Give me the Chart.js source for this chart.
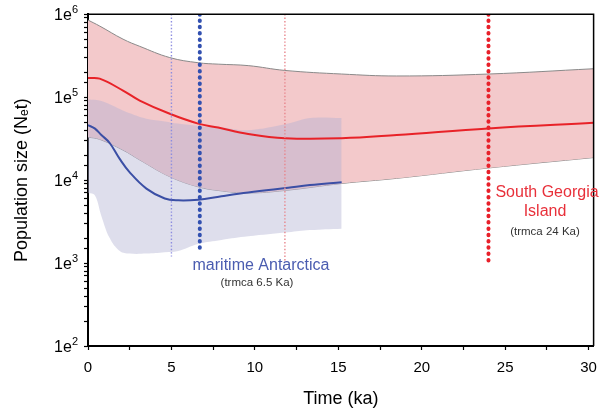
<!DOCTYPE html>
<html>
<head>
<meta charset="utf-8">
<script src="https://cdn.jsdelivr.net/npm/chart.js@4"></script>
<style>
  html, body { margin: 0; padding: 0; background: #fff; }
</style>
</head>
<body>
<canvas id="neChart" width="606" height="413"></canvas>
<script>
// South Georgia Island (red)
const sgTime = [0, 0.7, 2.1, 3.1, 4.9, 6.6, 7.8, 9.6, 11.8, 15.2, 18.5, 24, 30.3];
const sgMedian = [1.7e5, 1.67e5, 1.2e5, 9.1e4, 6.3e4, 4.8e4, 4.3e4, 3.6e4, 3.2e4, 3.2e4, 3.5e4, 4.2e4, 4.9e4];
const sgUpper = [8.5e5, 7.2e5, 5.0e5, 4.1e5, 3.0e5, 2.6e5, 2.5e5, 2.4e5, 2.1e5, 1.9e5, 1.8e5, 1.9e5, 2.2e5];
const sgLower = [3.3e4, 3.1e4, 2.3e4, 1.75e4, 1.1e4, 8.3e3, 7.5e3, 7.0e3, 7.5e3, 9.1e3, 1.05e4, 1.4e4, 1.87e4];

// maritime Antarctica (blue)
const maTime = [0, 0.4, 0.8, 1.3, 1.9, 2.5, 3.5, 4.6, 5.4, 6.6, 8, 9.6, 12, 13.3, 15.2];
const maMedian = [4.6e4, 4.2e4, 3.5e4, 2.8e4, 1.8e4, 1.24e4, 7.9e3, 6.0e3, 5.7e3, 5.8e3, 6.4e3, 7.1e3, 8.1e3, 8.7e3, 9.4e3];
const maUpper = [9.4e4, 9.3e4, 9.0e4, 8.2e4, 7.2e4, 6.4e4, 5.5e4, 5.1e4, 4.8e4, 4.5e4, 4.3e4, 4.0e4, 4.8e4, 5.6e4, 5.6e4];
const maLower = [7e3, 6.6e3, 3.7e3, 2.0e3, 1.4e3, 1.3e3, 1.3e3, 1.35e3, 1.4e3, 1.7e3, 1.9e3, 2.1e3, 2.35e3, 2.5e3, 2.6e3];

// vertical markers: time and lowest value
const markerTimes = [5, 6.7, 11.8, 24];
const markerBottoms = [1.2e3, 1.3e3, 1.07e3, 1.0e3];

// y tick labels: "1e" with a superscript exponent
const yTickValues = [1e2, 1e3, 1e4, 1e5, 1e6];
const yTickExponents = ['2', '3', '4', '5', '6'];

const FONT = "'Liberation Sans', Arial, sans-serif";

const pts = (xs, ys) => xs.map((x, i) => ({x: x, y: ys[i]}));
const vline = (i) => [{x: markerTimes[i], y: 1e6}, {x: markerTimes[i], y: markerBottoms[i]}];

const curve = {
  pointRadius: 0,
  tension: 0.4
};

const annotations = {
  id: 'annotations',
  afterDraw(chart) {
    const {ctx, chartArea} = chart;
    const yScale = chart.scales.y;
    ctx.save();
    // frame: top and right sides
    ctx.strokeStyle = '#000';
    ctx.lineWidth = 1.5;
    ctx.beginPath();
    ctx.moveTo(chartArea.left, chartArea.top);
    ctx.lineTo(chartArea.right, chartArea.top);
    ctx.lineTo(chartArea.right, chartArea.bottom);
    ctx.stroke();

    // y tick labels
    ctx.fillStyle = '#000';
    ctx.textBaseline = 'alphabetic';
    ctx.textAlign = 'left';
    const right = chartArea.left - 10;
    yTickValues.forEach((v, i) => {
      const y = yScale.getPixelForValue(v);
      ctx.font = '11px ' + FONT;
      const sw = ctx.measureText(yTickExponents[i]).width;
      ctx.font = '16px ' + FONT;
      const bw = ctx.measureText('1e').width;
      ctx.fillText('1e', right - sw - bw, y + 6);
      ctx.font = '11px ' + FONT;
      ctx.fillText(yTickExponents[i], right - sw, y - 1);
    });

    ctx.textAlign = 'center';
    ctx.fillStyle = '#4a5cb0';
    ctx.font = '16px ' + FONT;
    ctx.fillText('maritime Antarctica', 261, 270);
    ctx.fillStyle = '#333';
    ctx.font = '11.5px ' + FONT;
    ctx.fillText('(trmca 6.5 Ka)', 257, 286);

    ctx.fillStyle = '#e8303a';
    ctx.font = '16px ' + FONT;
    ctx.fillText('South Georgia', 547, 197);
    ctx.fillText('Island', 545, 216);
    ctx.fillStyle = '#333';
    ctx.font = '11.5px ' + FONT;
    ctx.fillText('(trmca 24 Ka)', 545, 235);
    ctx.restore();
  }
};

new Chart(document.getElementById('neChart'), {
  type: 'line',
  data: {
    datasets: [
      // vertical markers
      {data: vline(0), borderColor: '#8c8ce0', borderWidth: 1.4, borderDash: [1.4, 2], pointRadius: 0, order: 0},
      {data: vline(1), borderColor: '#3250b0', borderWidth: 4, borderDash: [0.5, 5.8], borderCapStyle: 'round', pointRadius: 0, order: 0},
      {data: vline(2), borderColor: '#e8868c', borderWidth: 1.4, borderDash: [1.4, 2], pointRadius: 0, order: 0},
      {data: vline(3), borderColor: '#e8202a', borderWidth: 4, borderDash: [0.5, 5.8], borderCapStyle: 'round', pointRadius: 0, order: 0},
      // medians
      {label: 'maritime Antarctica', data: pts(maTime, maMedian), borderColor: '#3b4fa5', borderWidth: 2, ...curve, order: 1},
      {label: 'South Georgia Island', data: pts(sgTime, sgMedian), borderColor: '#e82228', borderWidth: 2, ...curve, order: 2},
      // blue band
      {data: pts(maTime, maUpper), borderWidth: 0, borderColor: 'rgba(0,0,0,0)', backgroundColor: 'rgba(176,176,210,0.42)', fill: '+1', ...curve, order: 3},
      {data: pts(maTime, maLower), borderWidth: 0, borderColor: 'rgba(0,0,0,0)', ...curve, order: 4},
      // red band
      {data: pts(sgTime, sgUpper), borderWidth: 1, borderColor: '#8a8a8a', backgroundColor: '#f3c9cb', fill: '+1', ...curve, order: 5},
      {data: pts(sgTime, sgLower), borderWidth: 1, borderColor: '#8a8a8a', ...curve, order: 6}
    ]
  },
  options: {
    responsive: false,
    animation: false,
    layout: {padding: {top: 13, right: 6, left: 0, bottom: 0}},
    plugins: {
      legend: {display: false},
      tooltip: {enabled: false}
    },
    scales: {
      x: {
        type: 'linear',
        min: 0,
        max: 30.3,
        ticks: {
          stepSize: 2.5,
          includeBounds: false,
          autoSkip: false,
          maxRotation: 0,
          padding: 9,
          color: '#000',
          font: {family: FONT, size: 15},
          callback: (value) => value % 5 === 0 ? String(value) : ''
        },
        grid: {drawOnChartArea: false, tickLength: 4, color: '#000', tickWidth: 1.2},
        border: {color: '#000', width: 2},
        title: {
          display: true,
          text: 'Time (ka)',
          color: '#000',
          font: {family: FONT, size: 18},
          padding: {top: 0, bottom: 3}
        },
        afterFit: (scale) => { scale.height = 67; }
      },
      y: {
        type: 'logarithmic',
        min: 100,
        max: 1e6,
        ticks: {
          autoSkip: false,
          padding: 7,
          callback: () => ''
        },
        grid: {drawOnChartArea: false, tickLength: 4, color: '#000', tickWidth: 1.2},
        border: {color: '#000', width: 2},
        title: {
          display: true,
          text: 'Population size (N\u2091t)',
          color: '#000',
          font: {family: FONT, size: 18},
          padding: {top: 11, bottom: 0}
        },
        afterFit: (scale) => { scale.width = 88; }
      }
    }
  },
  plugins: [annotations]
});
</script>
</body>
</html>
